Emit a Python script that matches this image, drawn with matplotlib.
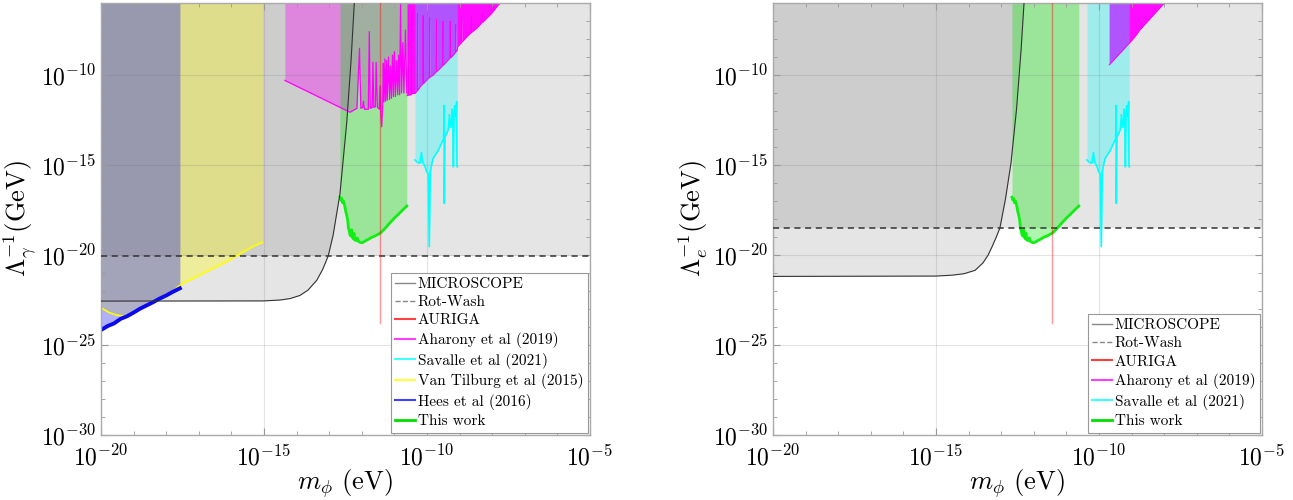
import numpy as np
import matplotlib
matplotlib.use('Agg')
import matplotlib.pyplot as plt
from matplotlib.lines import Line2D
from matplotlib.ticker import FixedLocator, LogFormatterMathtext, NullFormatter

plt.rcParams['font.family'] = 'serif'
plt.rcParams['font.serif'] = ['cmr10', 'DejaVu Serif']
plt.rcParams['mathtext.fontset'] = 'cm'
plt.rcParams['axes.formatter.use_mathtext'] = True

# axis ranges (log10)
X_MIN, X_MAX = -20, -5
Y_MIN, Y_MAX = -30, -6

# ---------------- data (log10 m [eV], log10 Lambda^-1 [GeV]) ----------------
microscope_gamma = [(-20, -22.56), (-15.0, -22.55), (-14.5, -22.5), (-14.2, -22.42), (-13.9, -22.25),
                    (-13.65, -21.95), (-13.38, -21.4), (-13.2, -20.8), (-13.03, -20.05), (-12.88, -18.9),
                    (-12.67, -16.6), (-12.46, -12.6), (-12.33, -9.2), (-12.23, -6.0)]
microscope_e = [(-20, -21.19), (-15.0, -21.17), (-14.5, -21.12), (-14.14, -21.04), (-13.8, -20.85),
                (-13.56, -20.44), (-13.4, -20.0), (-13.27, -19.5), (-13.15, -19.0), (-13.04, -18.5),
                (-12.87, -16.9), (-12.7, -14.9), (-12.53, -11.9), (-12.39, -8.6), (-12.3, -6.0)]

rotwash_gamma = -20.05
rotwash_e = -18.52

auriga_m = -11.43
auriga_bottom = -23.8

aharony_gamma_low = [(-14.36, -10.30), (-12.36, -12.07), (-12.15, -11.85), (-12.07, -8.52), (-12.03, -11.85),
                     (-11.97, -11.8), (-11.95, -11.45), (-11.92, -11.9), (-11.80, -11.9), (-11.77, -7.59),
                     (-11.74, -11.85), (-11.68, -11.8), (-11.66, -9.3), (-11.63, -11.8), (-11.58, -11.75),
                     (-11.56, -9.3), (-11.52, -11.8), (-11.46, -11.9), (-11.44, -10.6), (-11.42, -12.0),
                     (-11.39, -12.87), (-11.36, -11.7), (-11.34, -9.35), (-11.32, -11.5), (-11.29, -9.1),
                     (-11.27, -11.45), (-11.24, -9.2), (-11.22, -11.4), (-11.18, -9.0), (-11.15, -11.35),
                     (-11.12, -9.5), (-11.09, -11.3), (-11.06, -8.9), (-11.03, -11.2), (-11.0, -8.7),
                     (-10.97, -11.2), (-10.93, -9.2), (-10.90, -11.1), (-10.87, -8.9), (-10.84, -11.1),
                     (-10.81, -6.0), (-10.78, -11.0), (-10.74, -8.2), (-10.71, -11.0), (-10.66, -7.5),
                     (-10.62, -11.0)]
aharony_gamma_high = [(-10.62, -11.15), (-10.58, -11.13), (-10.57, -6.3), (-10.56, -11.12), (-10.50, -11.1),
                      (-10.47, -11.05), (-10.46, -6.5), (-10.45, -11.04), (-10.37, -11.02), (-10.30, -10.88),
                      (-10.29, -6.6), (-10.28, -10.85), (-10.21, -10.65), (-10.13, -10.5), (-10.12, -6.7),
                      (-10.11, -10.48), (-10.01, -10.28), (-9.93, -10.15), (-9.92, -6.8), (-9.91, -10.13),
                      (-9.81, -10.0), (-9.72, -9.83), (-9.71, -6.9), (-9.70, -9.81), (-9.60, -9.63),
                      (-9.52, -9.48), (-9.51, -7.0), (-9.50, -9.46), (-9.40, -9.26), (-9.30, -9.07),
                      (-9.29, -7.0), (-9.28, -9.05), (-9.19, -8.89), (-9.13, -8.75), (-9.12, -7.2),
                      (-9.11, -8.73), (-9.07, -8.61), (-9.06, -8.43), (-8.95, -8.2), (-8.94, -6.8),
                      (-8.93, -8.18), (-8.78, -7.87), (-8.65, -7.65), (-8.64, -6.7), (-8.63, -7.63),
                      (-8.48, -7.41), (-8.32, -7.1), (-8.31, -6.6), (-8.30, -7.08), (-8.17, -6.85),
                      (-7.98, -6.5), (-7.97, -6.2), (-7.96, -6.45), (-7.86, -6.2), (-7.76, -6.0)]
aharony_e = [(-9.69, -9.44), (-9.6, -9.27), (-9.5, -9.07), (-9.4, -8.87), (-9.3, -8.68), (-9.2, -8.48),
             (-9.08, -8.24), (-8.95, -7.98), (-8.85, -7.75), (-8.75, -7.5), (-8.6, -7.2), (-8.45, -6.9),
             (-8.3, -6.6), (-8.15, -6.3), (-8.0, -6.0)]

savalle = [(-10.37, -14.72), (-10.30, -14.85), (-10.22, -14.9), (-10.17, -14.3), (-10.14, -14.85),
           (-10.08, -15.0), (-10.01, -15.37), (-9.96, -15.5), (-9.93, -19.54), (-9.90, -15.4),
           (-9.86, -15.0), (-9.81, -14.63), (-9.71, -14.35), (-9.66, -14.2), (-9.60, -13.98),
           (-9.53, -13.7), (-9.49, -13.55), (-9.475, -11.7), (-9.47, -17.13), (-9.45, -13.45),
           (-9.40, -13.25), (-9.35, -13.06), (-9.31, -12.2), (-9.29, -12.9), (-9.25, -12.7),
           (-9.23, -11.9), (-9.21, -12.5), (-9.19, -15.1), (-9.17, -12.4), (-9.15, -11.7),
           (-9.13, -12.3), (-9.11, -12.2), (-9.09, -11.48), (-9.08, -15.1), (-9.07, -15.1)]

this_work = [(-12.67, -16.79), (-12.64, -16.95), (-12.62, -16.85), (-12.59, -17.1), (-12.56, -17.0),
             (-12.52, -17.3), (-12.49, -17.6), (-12.46, -17.8), (-12.43, -18.1), (-12.41, -18.5),
             (-12.38, -18.7), (-12.36, -18.9), (-12.33, -18.95), (-12.31, -18.6), (-12.29, -19.0),
             (-12.26, -19.1), (-12.24, -18.8), (-12.22, -19.15), (-12.18, -19.2), (-12.14, -19.05),
             (-12.10, -19.25), (-12.05, -19.3), (-12.0, -19.32), (-11.95, -19.28), (-11.9, -19.22),
             (-11.8, -19.13), (-11.7, -19.02), (-11.6, -18.95), (-11.5, -18.85), (-11.44, -18.8),
             (-11.3, -18.55), (-11.13, -18.2), (-11.0, -17.95), (-10.83, -17.65), (-10.62, -17.28)]

van_tilburg = [(-20, -22.93), (-19.75, -23.2), (-19.5, -23.35), (-19.26, -23.39), (-19.1, -23.3),
               (-18.96, -23.12), (-18.6, -22.78), (-18.2, -22.4), (-17.8, -22.02), (-17.63, -21.75),
               (-17.4, -21.5), (-17.17, -21.3), (-16.9, -21.05), (-16.66, -20.83), (-16.4, -20.6),
               (-16.14, -20.37), (-15.84, -20.05), (-15.53, -19.72), (-15.3, -19.5), (-15.05, -19.3)]

hees = [(-20, -24.17), (-19.8, -23.95), (-19.6, -23.8), (-19.4, -23.55), (-19.2, -23.4), (-19.0, -23.2),
        (-18.8, -22.98), (-18.6, -22.8), (-18.4, -22.62), (-18.2, -22.42), (-18.0, -22.25),
        (-17.8, -22.05), (-17.58, -21.85)]

major_x = [-20, -15, -10, -5]
major_y = [-30, -25, -20, -15, -10]


def xy(pts):
    a = np.array(pts, dtype=float)
    return 10 ** a[:, 0], 10 ** a[:, 1]


def fill_up(ax, pts, **kw):
    x, y = xy(pts)
    ax.fill_between(x, y, 10.0 ** Y_MAX, lw=0, **kw)


def line(ax, pts, **kw):
    x, y = xy(pts)
    ax.plot(x, y, **kw)


GREY_A = 0.10
C_MAG = '#ff00ff'
C_CYAN = '#00ffff'
C_GREEN_FILL = '#00e600'
C_GREEN = '#11ee11'


def setup(ax, ylabel):
    ax.set_xscale('log')
    ax.set_yscale('log')
    ax.set_xlim(10.0 ** X_MIN, 10.0 ** X_MAX)
    ax.set_ylim(10.0 ** Y_MIN, 10.0 ** Y_MAX)
    ax.xaxis.set_major_locator(FixedLocator([10.0 ** k for k in major_x]))
    ax.yaxis.set_major_locator(FixedLocator([10.0 ** k for k in major_y]))
    ax.xaxis.set_minor_locator(FixedLocator([10.0 ** k for k in range(X_MIN, X_MAX + 1)]))
    ax.yaxis.set_minor_locator(FixedLocator([10.0 ** k for k in range(Y_MIN, Y_MAX + 1)]))
    ax.xaxis.set_major_formatter(LogFormatterMathtext())
    ax.yaxis.set_major_formatter(LogFormatterMathtext())
    ax.xaxis.set_minor_formatter(NullFormatter())
    ax.yaxis.set_minor_formatter(NullFormatter())
    ax.tick_params(which='both', direction='in', top=True, right=True, color='#999999',
                   labelsize=17)
    ax.tick_params(axis='x', which='major', pad=7)
    ax.tick_params(which='major', length=5, width=0.8)
    ax.tick_params(which='minor', length=3, width=0.6)
    ax.grid(True, which='major', color='0.45', alpha=0.2, lw=0.8)
    for s in ax.spines.values():
        s.set_color('#aaaaaa')
        s.set_linewidth(1.0)
    ax.set_xlabel(r'$m_\phi$ (eV)', fontsize=19, labelpad=-2)
    ax.set_ylabel(ylabel, fontsize=19, labelpad=2)


def base_layers(ax, rw, micro):
    ax.fill_between([10.0 ** X_MIN, 10.0 ** X_MAX], 10.0 ** rw, 10.0 ** Y_MAX,
                    color='k', alpha=GREY_A, lw=0)
    fill_up(ax, micro, color='k', alpha=GREY_A)


def top_layers(ax, rw, micro):
    fill_up(ax, this_work, color=C_GREEN_FILL, alpha=0.32)
    line(ax, this_work, color=C_GREEN, lw=2.0, zorder=4)
    line(ax, micro, color='#333333', lw=0.8, zorder=4)
    ax.axhline(10.0 ** rw, color='#333333', lw=1.1, dashes=(4, 3), zorder=4)
    ax.plot([10.0 ** auriga_m] * 2, [10.0 ** auriga_bottom, 10.0 ** Y_MAX], color='red',
            alpha=0.4, lw=1.0, zorder=4)


def leg(ax, entries):
    handles = [Line2D([], [], color=c, lw=lw, ls=ls) for (_, c, lw, ls) in entries]
    labels = [e[0] for e in entries]
    lg = ax.legend(handles, labels, loc='lower right', fontsize=11, handlelength=1.3,
                   handletextpad=0.15, labelspacing=0.3, borderpad=0.3, borderaxespad=0.15,
                   fancybox=False, framealpha=1.0, edgecolor='#999999')
    lg.get_frame().set_linewidth(0.8)
    lg.set_zorder(10)


fig = plt.figure(figsize=(12.93, 5.0), dpi=100)
axL = fig.add_axes([101 / 1293, 65 / 500, 489 / 1293, 432 / 500])
axR = fig.add_axes([773 / 1293, 65 / 500, 489 / 1293, 432 / 500])

# ---------------- left panel: photon ----------------
ax = axL
base_layers(ax, rotwash_gamma, microscope_gamma)
fill_up(ax, van_tilburg, color='#ffff00', alpha=0.32)
line(ax, van_tilburg, color='#ffff00', lw=1.2)
fill_up(ax, hees, color='#0000ff', alpha=0.31)
line(ax, hees, color='#0a0aee', lw=2.8)
fill_up(ax, aharony_gamma_low, color=C_MAG, alpha=0.35)
fill_up(ax, aharony_gamma_high, color=C_MAG, alpha=0.95)
line(ax, aharony_gamma_low, color=C_MAG, lw=0.9)
line(ax, aharony_gamma_high, color=C_MAG, lw=0.6)
fill_up(ax, savalle, color=C_CYAN, alpha=0.3)
line(ax, savalle, color=C_CYAN, lw=1.2)
top_layers(ax, rotwash_gamma, microscope_gamma)
setup(ax, r'$\Lambda_\gamma^{-1}$(GeV)')
leg(ax, [('MICROSCOPE', '#888888', 1.0, '-'), ('Rot-Wash', '#888888', 1.0, '--'),
         ('AURIGA', '#ff4040', 1.5, '-'), ('Aharony et al (2019)', '#ff40ff', 1.5, '-'),
         ('Savalle et al (2021)', '#40ffff', 1.5, '-'), ('Van Tilburg et al (2015)', '#ffff40', 1.5, '-'),
         ('Hees et al (2016)', '#4040ff', 1.5, '-'), ('This work', '#00dd00', 2.0, '-')])

# ---------------- right panel: electron ----------------
ax = axR
base_layers(ax, rotwash_e, microscope_e)
fill_up(ax, aharony_e, color=C_MAG, alpha=0.95)
line(ax, aharony_e, color=C_MAG, lw=0.6)
fill_up(ax, savalle, color=C_CYAN, alpha=0.3)
line(ax, savalle, color=C_CYAN, lw=1.2)
top_layers(ax, rotwash_e, microscope_e)
setup(ax, r'$\Lambda_e^{-1}$(GeV)')
leg(ax, [('MICROSCOPE', '#888888', 1.0, '-'), ('Rot-Wash', '#888888', 1.0, '--'),
         ('AURIGA', '#ff4040', 1.5, '-'), ('Aharony et al (2019)', '#ff40ff', 1.5, '-'),
         ('Savalle et al (2021)', '#40ffff', 1.5, '-'), ('This work', '#00dd00', 2.0, '-')])

fig.savefig('out.png', dpi=100)
